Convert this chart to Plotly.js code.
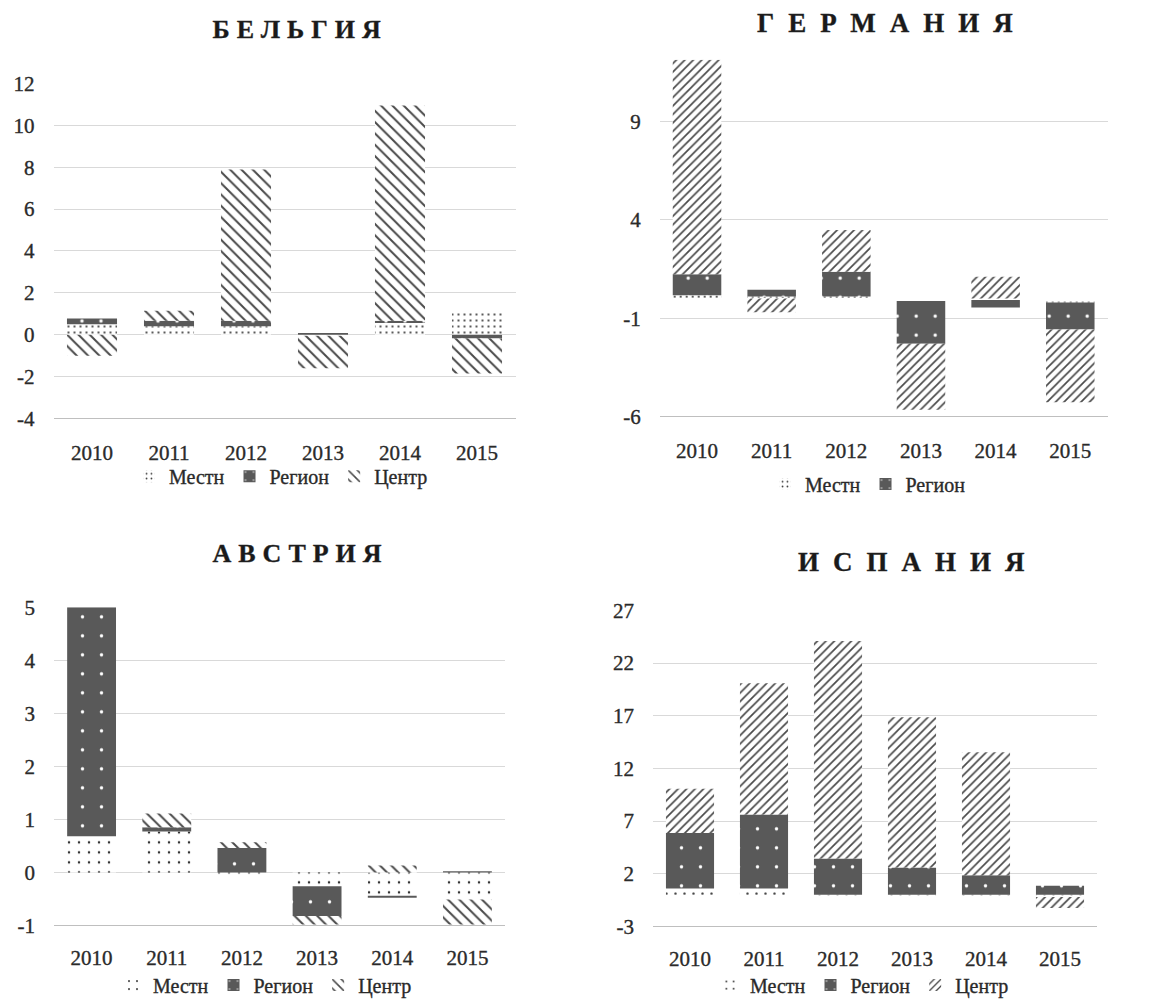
<!DOCTYPE html>
<html>
<head>
<meta charset="utf-8">
<script src="https://cdn.plot.ly/plotly-3.0.1.min.js"></script>
<style>
html,body{margin:0;padding:0;background:#fff;}
#chart{width:1162px;height:1005px;}
#chart svg text{stroke:#2a2a2a;stroke-width:0.35px;}
.annotation[data-index="0"] .annotation-text,
.annotation[data-index="2"] .annotation-text{letter-spacing:7px;}
.annotation[data-index="1"] .annotation-text,
.annotation[data-index="3"] .annotation-text{letter-spacing:14px;}
</style>
</head>
<body>
<div id="chart"></div>
<script>
// ---- data ----
const years = ['2010','2011','2012','2013','2014','2015'];
const seriesNames = ['Местн','Регион','Центр'];
const titles = ['БЕЛЬГИЯ','ГЕРМАНИЯ','АВСТРИЯ','ИСПАНИЯ'];

const belMestn  = [0.5, 0.4, 0.4, -0.05, 0.56, 1.06];
const belRegion = [0.27, 0.27, 0.27, 0.08, 0.11, -0.18];
const belCentr  = [-1.0, 0.48, 7.22, -1.55, 10.28, -1.67];

const gerMestn  = [0.17, 0.1, 0.1, -0.12, -0.08, -0.2];
const gerRegion = [1.06, 0.35, 1.26, -2.18, -0.37, -1.38];
const gerCentr  = [10.92, -0.7, 2.13, -3.36, 1.11, -3.7];

const ausMestn  = [0.68, 0.77, -0.07, -0.26, -0.44, -0.51];
const ausRegion = [4.32, 0.08, 0.46, -0.56, -0.04, 0.02];
const ausCentr  = [0, 0.26, 0.11, -0.16, 0.13, -0.47];

const espMestn  = [0.6, 0.6, -0.2, -0.2, -0.2, -0.2];
const espRegion = [5.27, 7.03, 3.44, 2.59, 1.86, 0.85];
const espCentr  = [4.2, 12.46, 20.66, 14.26, 11.67, -1.05];

const belTicks = [-4,-2,0,2,4,6,8,10,12];
const belTickText = ['-4','-2','0','2','4','6','8','10','12'];
const gerTicks = [-6,-1,4,9];
const gerTickText = ['-6','-1','4','9'];
const ausTicks = [-1,0,1,2,3,4,5];
const ausTickText = ['-1','0','1','2','3','4','5'];
const espTicks = [-3,2,7,12,17,22,27];
const espTickText = ['-3','2','7','12','17','22','27'];

// ---- styling ----
const W = 1162, H = 1005;
const serif = 'Liberation Serif';
const txtColor = '#2a2a2a';
const dark = '#595959';

function px(x){return x/W;}
function py(y){return 1 - y/H;}

function mestnStyle(size, sol){
  return {color:'#ffffff', pattern:{shape:'.', fgcolor:'#333333', bgcolor:'#ffffff', size:size, solidity:sol, fillmode:'replace'}};
}
function regionStyle(){
  return {color:dark, pattern:{shape:'.', fgcolor:'#ffffff', bgcolor:dark, size:19, solidity:0.025, fillmode:'replace'}};
}
function centrStyle(shape, size, sol){
  return {color:'#ffffff', pattern:{shape:shape, fgcolor:'#4a4a4a', bgcolor:'#ffffff', size:size, solidity:sol, fillmode:'replace'}};
}

const panels = [
  {m:belMestn, r:belRegion, c:belCentr, mSize:6, mSol:0.1, hatch:'\\', hSize:8, hSol:0.25, xa:'x', ya:'y', lg:'legend', showC:true},
  {m:gerMestn, r:gerRegion, c:gerCentr, mSize:6, mSol:0.1, hatch:'/', hSize:6, hSol:0.28, xa:'x2', ya:'y2', lg:'legend2', showC:false},
  {m:ausMestn, r:ausRegion, c:ausCentr, mSize:10, mSol:0.05, hatch:'\\', hSize:8, hSol:0.25, xa:'x3', ya:'y3', lg:'legend3', showC:true},
  {m:espMestn, r:espRegion, c:espCentr, mSize:9, mSol:0.06, hatch:'/', hSize:6, hSol:0.28, xa:'x4', ya:'y4', lg:'legend4', showC:true}
];

const traces = [];
panels.forEach(p => {
  traces.push({type:'bar', x:years, y:p.m, name:seriesNames[0], xaxis:p.xa, yaxis:p.ya, legend:p.lg,
    marker:Object.assign(mestnStyle(p.mSize, p.mSol), {line:{width:0}}), hoverinfo:'skip'});
  traces.push({type:'bar', x:years, y:p.r, name:seriesNames[1], xaxis:p.xa, yaxis:p.ya, legend:p.lg,
    marker:Object.assign(regionStyle(), {line:{width:0}}), hoverinfo:'skip'});
  traces.push({type:'bar', x:years, y:p.c, name:seriesNames[2], xaxis:p.xa, yaxis:p.ya, legend:p.lg,
    showlegend:p.showC,
    marker:Object.assign(centrStyle(p.hatch, p.hSize, p.hSol), {line:{width:0}}), hoverinfo:'skip'});
});

function xAxis(d0, d1, anchor, standoff){
  return {domain:[px(d0), px(d1)], anchor:anchor, type:'category', showgrid:false, zeroline:false,
    showline:true, linecolor:'#bfbfbf', linewidth:1, ticks:'', ticklabelstandoff:standoff,
    tickfont:{family:serif, size:21, color:txtColor}, fixedrange:true};
}
function yAxis(top, bottom, anchor, range, ticks, ticktext){
  return {domain:[py(bottom), py(top)], anchor:anchor, range:range, tickvals:ticks, ticktext:ticktext,
    showgrid:true, gridcolor:'#d9d9d9', gridwidth:1, zeroline:false, showline:false, ticks:'',
    ticklabelstandoff:18, tickfont:{family:serif, size:21, color:txtColor}, fixedrange:true};
}

function legendAt(x, y){
  return {orientation:'h', x:px(x), y:py(y), xanchor:'center', yanchor:'middle', traceorder:'normal',
    font:{family:serif, size:20, color:txtColor}, bgcolor:'rgba(0,0,0,0)', itemwidth:30,
    itemclick:false, itemdoubleclick:false};
}

function titleAnn(text, x, y, size){
  return {text:text, x:px(x), y:py(y), xref:'paper', yref:'paper', showarrow:false,
    xanchor:'center', yanchor:'middle', font:{family:serif, size:size, color:'#1a1a1a', weight:'bold'}};
}

const layout = {
  width:W, height:H, margin:{l:0, r:0, t:0, b:0}, paper_bgcolor:'#ffffff', plot_bgcolor:'#ffffff',
  font:{family:serif, size:21, color:txtColor},
  barmode:'relative', bargap:0.35, showlegend:true,
  xaxis: xAxis(53.5, 515.5, 'y', 15),
  yaxis: yAxis(84, 421, 'x', [-4, 12], belTicks, belTickText),
  xaxis2: xAxis(659.7, 1107.6, 'y2', 15),
  yaxis2: yAxis(60, 419, 'x2', [-6, 12.15], gerTicks, gerTickText),
  xaxis3: xAxis(54, 505, 'y3', 13),
  yaxis3: yAxis(611, 931, 'x3', [-1, 5], ausTicks, ausTickText),
  xaxis4: xAxis(653, 1097, 'y4', 13),
  yaxis4: yAxis(614, 932, 'x4', [-3, 27], espTicks, espTickText),
  legend: legendAt(281, 479),
  legend2: legendAt(868, 487),
  legend3: legendAt(265, 991),
  legend4: legendAt(862, 991),
  annotations: [
    titleAnn(titles[0], 300, 30, 26),
    titleAnn(titles[1], 892, 23, 27),
    titleAnn(titles[2], 300, 557, 26),
    titleAnn(titles[3], 918, 565, 27)
  ]
};

Plotly.newPlot('chart', traces, layout, {staticPlot:true, displayModeBar:false});
</script>
</body>
</html>
